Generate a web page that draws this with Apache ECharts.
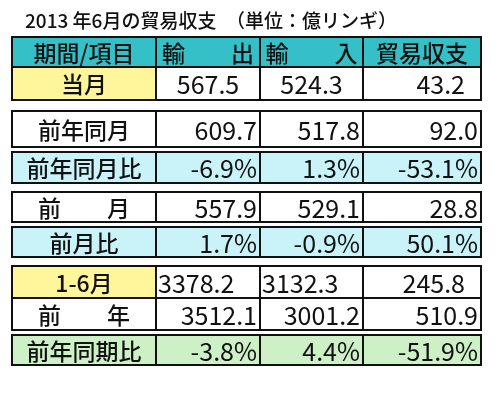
<!DOCTYPE html>
<html><head><meta charset="utf-8">
<script src="https://cdn.jsdelivr.net/npm/echarts@6/dist/echarts.min.js"></script>
<style>html,body{margin:0;padding:0;background:#fff}#c{width:498px;height:400px}</style>
</head><body><div id="c"></div>
<script>
const title = '2013 年6月の貿易収支　（単位：億リンギ）';
const headers = ['期間/項目', '輸　　出', '輸　　入', '貿易収支'];
const rowLabels = ['当月', '前年同月', '前年同月比', '前　　月', '前月比', '1-6月', '前　　年', '前年同期比'];
const exportsV = ['567.5', '609.7', '-6.9%', '557.9', '1.7%', '3378.2', '3512.1', '-3.8%'];
const importsV = ['524.3', '517.8', '1.3%', '529.1', '-0.9%', '3132.3', '3001.2', '4.4%'];
const balanceV = ['43.2', '92.0', '-53.1%', '28.8', '50.1%', '245.8', '510.9', '-51.9%'];

// layout (not data)
const colEdges = [12, 156, 260, 363, 481];
const headerRow = [37, 67];
const rowEdges = [[67,100],[111,147],[152,183],[192,222],[227,257],[266,298],[298,330],[335,365]];
const labelFill = ['#fff59a','#fff','#c9f3f8','#fff','#c9f3f8','#fff59a','#fff','#cdf0c6'];
const valFill = ['#fff','#fff','#c9f3f8','#fff','#c9f3f8','#fff','#fff','#cdf0c6'];
const align = [['center','center','right'],['right','right','right'],['right','right','right'],['right','right','right'],['right','right','right'],['left','left','right'],['right','right','right'],['right','right','right']];

const cells = [];
headers.forEach((h,c)=>cells.push({x0:colEdges[c],x1:colEdges[c+1],y0:headerRow[0],y1:headerRow[1],text:h,fill:'#35bfc7',align:'center',bold:true}));
rowLabels.forEach((lab,r)=>{
  const vals=[exportsV[r],importsV[r],balanceV[r]];
  cells.push({x0:colEdges[0],x1:colEdges[1],y0:rowEdges[r][0],y1:rowEdges[r][1],text:lab,fill:labelFill[r],align:'center',bold:true});
  vals.forEach((v,c)=>cells.push({x0:colEdges[c+1],x1:colEdges[c+2],y0:rowEdges[r][0],y1:rowEdges[r][1],text:v,fill:valFill[r],align:align[r][c],bold:false}));
});

const chart = echarts.init(document.getElementById('c'));
chart.setOption({
  animation:false,
  title:{text:title,left:20,top:6,textStyle:{fontFamily:'Noto Sans CJK JP',fontSize:19,fontWeight:500,color:'#111'}},
  grid:{left:0,right:0,top:0,bottom:0},
  xAxis:{type:'value',min:0,max:498,show:false},
  yAxis:{type:'value',min:0,max:400,inverse:true,show:false},
  series:[{
    type:'custom',
    data:cells.map((c,i)=>[c.x0,c.y0,c.x1,c.y1,i]),
    renderItem:(params,api)=>{
      const c=cells[api.value(4)];
      const p0=api.coord([api.value(0),api.value(1)]);
      const p1=api.coord([api.value(2),api.value(3)]);
      let tx, ta;
      if(c.align==='center'){tx=(p0[0]+p1[0])/2;ta='center';}
      else if(c.align==='left'){tx=p0[0]+2;ta='left';}
      else {tx=p1[0]-3;ta='right';}
      if(c.align==='right' && c.x1===481 && (c.text==='43.2'||c.text==='245.8')) tx=p1[0]-16;
      return {type:'group',children:[
        {type:'rect',shape:{x:p0[0],y:p0[1],width:p1[0]-p0[0],height:p1[1]-p0[1]},style:{fill:c.fill,stroke:'#111',lineWidth:2}},
        {type:'text',style:{x:tx,y:(p0[1]+p1[1])/2+1,text:c.text,align:ta,verticalAlign:'middle',fill:'#111',
          fontFamily:'Noto Sans CJK JP',fontSize:c.bold?23:25,fontWeight:c.bold?500:400}}
      ]};
    }
  }]
});
</script></body></html>
